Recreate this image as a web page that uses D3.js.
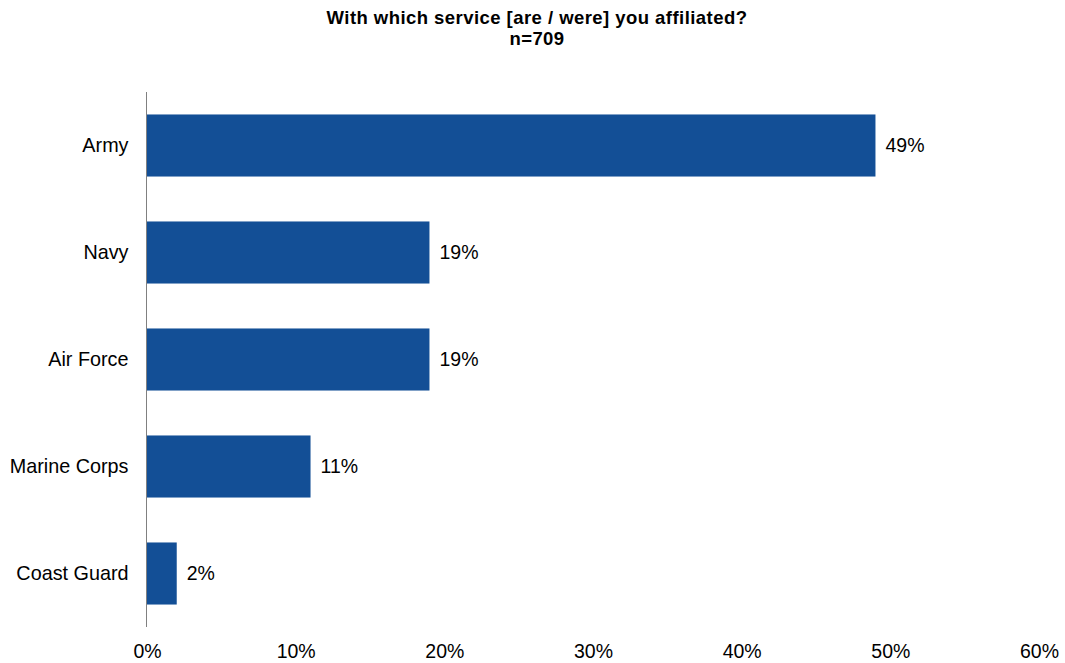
<!DOCTYPE html>
<html><head><meta charset="utf-8">
<script src="https://cdn.jsdelivr.net/npm/d3@7"></script>
<style>body{margin:0;background:#fff}svg{display:block}text{font-family:"Liberation Sans",Arial,sans-serif}</style>
</head><body><svg id="c" width="1065" height="663"></svg>
<script>
const categories = ["Army","Navy","Air Force","Marine Corps","Coast Guard"];
const values = [49,19,19,11,2];
const ticks = [0,10,20,30,40,50,60];
const titleLines = ["With which service [are / were] you affiliated?","n=709"];

const svg = d3.select("#c");
const x = d3.scaleLinear().domain([0,60]).range([147,1039]);
const y = d3.scaleBand().domain(categories).range([92,627]).paddingInner(0.42).paddingOuter(0.21);

svg.selectAll("text.title").data(titleLines).join("text").attr("class","title")
  .attr("x",537).attr("y",(d,i)=>23.5+i*21).attr("text-anchor","middle")
  .attr("font-weight","bold").attr("font-size",18.5).attr("letter-spacing",0.45).attr("fill","#000").text(d=>d);

svg.selectAll("rect.bar").data(values).join("rect").attr("class","bar")
  .attr("x",x(0)).attr("y",(d,i)=>y(categories[i])).attr("width",d=>x(d)-x(0))
  .attr("height",y.bandwidth()).attr("fill","#134F96");

svg.selectAll("text.val").data(values).join("text").attr("class","val")
  .attr("x",d=>x(d)+10).attr("y",(d,i)=>y(categories[i])+y.bandwidth()/2).attr("dy","0.35em")
  .attr("font-size",19.5).attr("fill","#000").text(d=>d+"%");

const ya = svg.append("g").attr("transform","translate(146.5,0)")
  .call(d3.axisLeft(y).tickSize(0).tickPadding(18));
ya.select(".domain").attr("stroke","#808080").attr("d","M0,92V627");
ya.selectAll("text").attr("font-size",19.8).attr("fill","#000").attr("font-family","Liberation Sans, Arial, sans-serif");

const xa = svg.append("g").attr("transform","translate(0,627)")
  .call(d3.axisBottom(x).tickValues(ticks).tickSize(0).tickPadding(17).tickFormat(d=>d+"%"));
xa.select(".domain").remove();
xa.selectAll("text").attr("font-size",19.5).attr("fill","#000").attr("font-family","Liberation Sans, Arial, sans-serif");
</script></body></html>
